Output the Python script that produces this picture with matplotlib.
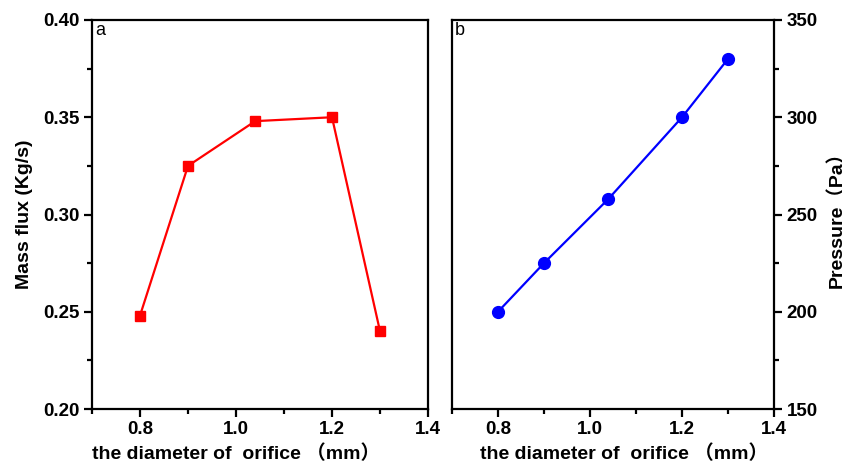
import numpy as np
import matplotlib.pyplot as plt
from matplotlib.ticker import MultipleLocator

# data
diam = [0.8, 0.9, 1.04, 1.2, 1.3]
mass_flux = [0.248, 0.325, 0.348, 0.350, 0.240]
pressure = [200, 225, 258, 300, 330]

plt.rcParams['font.family'] = ['Liberation Sans', 'Noto Sans CJK SC', 'DejaVu Sans']
plt.rcParams['font.size'] = 13.5

fig = plt.figure(figsize=(8.42, 4.68), dpi=100)
W, H = 842.0, 468.0
ax1 = fig.add_axes([92 / W, 1 - 409 / H, (428 - 92) / W, (409 - 20) / H])
ax2 = fig.add_axes([452 / W, 1 - 409 / H, (774 - 452) / W, (409 - 20) / H])

xlab = 'the diameter of  orifice （mm）'

# panel a
ax1.plot(diam, mass_flux, color='red', lw=1.6, marker='s', ms=7.5)
ax1.set_xlim(0.7, 1.4)
ax1.set_ylim(0.20, 0.40)
ax1.xaxis.set_minor_locator(MultipleLocator(0.1))
ax1.yaxis.set_minor_locator(MultipleLocator(0.025))
ax1.set_xticks([0.8, 1.0, 1.2, 1.4])
ax1.set_yticks([0.20, 0.25, 0.30, 0.35, 0.40])
ax1.set_yticklabels(['0.20', '0.25', '0.30', '0.35', '0.40'])
ax1.set_ylabel('Mass flux (Kg/s)', fontweight='bold', fontsize=14, labelpad=7)
ax1.set_xlabel(xlab, fontweight='bold', fontsize=14)
ax1.xaxis.set_label_coords(0.43, -0.092)
ax1.text(0.01, 0.995, 'a', transform=ax1.transAxes, ha='left', va='top', fontsize=13)
ax1.tick_params(which='both', direction='out', top=False, right=False)

# panel b
ax2.plot(diam, pressure, color='blue', lw=1.6, marker='o', ms=8.5)
ax2.set_xlim(0.7, 1.4)
ax2.set_ylim(150, 350)
ax2.set_xticks([0.8, 1.0, 1.2, 1.4])
ax2.xaxis.set_minor_locator(MultipleLocator(0.1))
ax2.yaxis.set_major_locator(MultipleLocator(50))
ax2.yaxis.set_minor_locator(MultipleLocator(25))
ax2.yaxis.tick_right()
ax2.yaxis.set_label_position('right')
ax2.set_ylabel('Pressure（Pa）', fontweight='bold', fontsize=14, labelpad=7)
ax2.set_xlabel(xlab, fontweight='bold', fontsize=14)
ax2.xaxis.set_label_coords(0.535, -0.092)
ax2.text(0.01, 0.995, 'b', transform=ax2.transAxes, ha='left', va='top', fontsize=13)
ax2.tick_params(which='both', direction='out', top=False, left=False)

for ax in (ax1, ax2):
    for s in ax.spines.values():
        s.set_linewidth(1.6)
    ax.tick_params(which='major', length=6, width=1.6, pad=3)
    ax.tick_params(which='minor', length=3.5, width=1.6)
    for lab in ax.get_xticklabels() + ax.get_yticklabels():
        lab.set_fontweight('bold')

fig.savefig('out.png', dpi=100)
